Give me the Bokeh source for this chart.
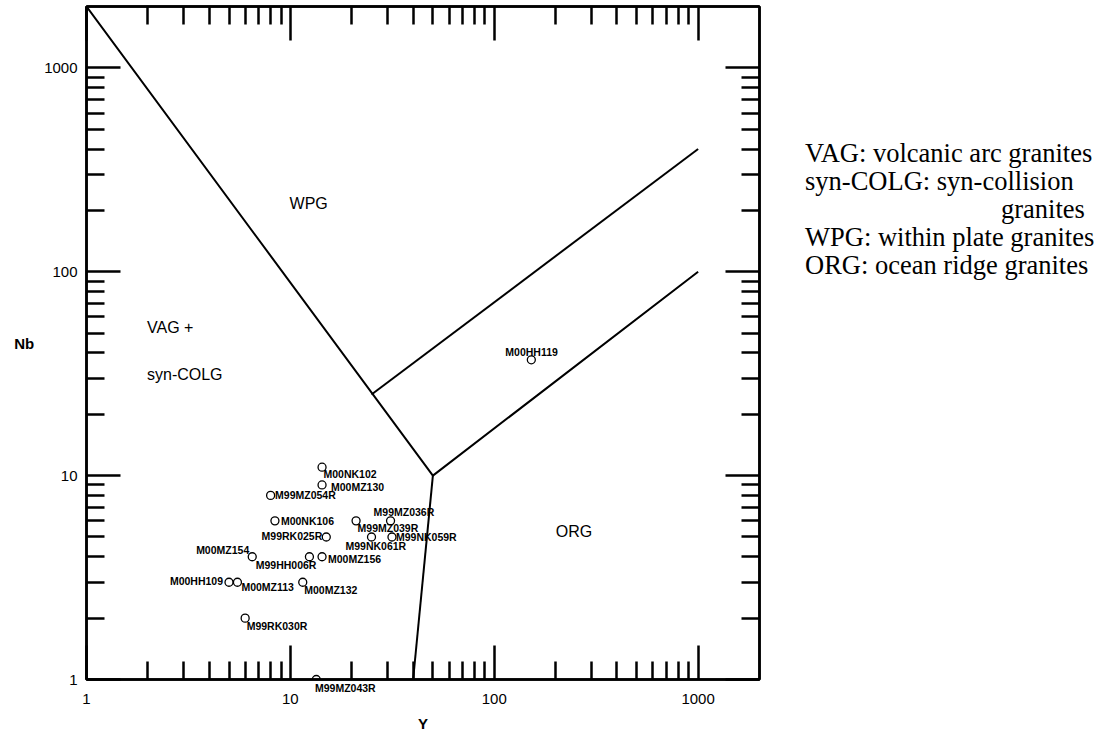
from bokeh.plotting import figure
from bokeh.models import (ColumnDataSource, LogAxis, FixedTicker, BasicTickFormatter,
                          CustomJSTickFormatter, LabelSet, Range1d, Div)
from bokeh.layouts import row
from bokeh.core.properties import value
from bokeh.embed import file_html
from bokeh.resources import INLINE

# ---------------- data ----------------
sample_names = ["M00NK102", "M00MZ130", "M99MZ054R", "M00NK106", "M99RK025R",
                "M00MZ154", "M99HH006R", "M00MZ156", "M00HH109", "M00MZ113",
                "M00MZ132", "M99RK030R", "M99MZ043R", "M99MZ039R", "M99MZ036R",
                "M99NK061R", "M99NK059R", "M00HH119"]
y_ppm = [14.3, 14.3, 8.0, 8.4, 15.0, 6.5, 12.4, 14.3, 5.0, 5.5,
         11.5, 6.0, 13.4, 21.0, 31.0, 25.0, 31.5, 152.0]
nb_ppm = [11.0, 9.0, 8.0, 6.0, 5.0, 4.0, 4.0, 4.0, 3.0, 3.0,
          3.0, 2.0, 1.0, 6.0, 6.0, 5.0, 5.0, 37.0]

# label placement (screen px, dy positive = downwards); the label of the
# sample sitting on the bottom axis is drawn outside the frame (see below)
label_dx = [1.5, 9, 4.5, 6, -4, -3, 7, 6, -6, 4, 1.5, 1.5, 1, 1.5, -17, -26, 4, -26]
label_dy = [6.5, 2, 0, 0, -0.5, -6.5, 8.5, 2.7, -1.4, 5, 7.7, 7.4, 8.4, 7.3, -9.3, 8.7, 0, -7.7]
label_align = ["left", "left", "left", "left", "right", "right", "right", "left", "right",
               "left", "left", "left", "left", "left", "left", "left", "left", "left"]

# discrimination boundaries (Y, Nb)
bnd1_y = [1, 50, 1000]
bnd1_nb = [2000, 10, 100]
bnd2_y = [50, 40]
bnd2_nb = [10, 1]
bnd3_y = [25, 1000]
bnd3_nb = [25, 400]

region_names = ["WPG", "VAG +", "syn-COLG", "ORG"]
region_y = [12.3, 1.98, 1.98, 246.0]
region_nb = [217.0, 53.0, 31.5, 5.34]
region_align = ["center", "left", "left", "center"]

major_ticks = [1, 10, 100, 1000]
minor_ticks = [2, 3, 4, 5, 6, 7, 8, 9, 20, 30, 40, 50, 60, 70, 80, 90,
               200, 300, 400, 500, 600, 700, 800, 900]
tick_labels = ["1", "10", "100", "1000"]

legend_lines = ["VAG: volcanic arc granites", "syn-COLG: syn-collision", "granites",
                "WPG: within plate granites", "ORG: ocean ridge granites"]
legend_indent = [0, 0, 196, 0, 0]

x_min, x_max = 1, 2000
y_min, y_max = 1, 2000

# ---------------- figure ----------------
p = figure(x_axis_type="log", y_axis_type="log",
           x_range=Range1d(x_min, x_max), y_range=Range1d(y_min, y_max),
           frame_width=673, frame_height=673,
           min_border_left=86, min_border_right=20, min_border_top=6, min_border_bottom=0,
           output_backend="svg", toolbar_location=None,
           background_fill_color="white", border_fill_color="white")
p.grid.visible = False
p.outline_line_color = "black"
p.outline_line_width = 2.5

overrides = {t: s for t, s in zip(major_ticks, tick_labels)}


def style_axis(ax, show_labels):
    ax.ticker = FixedTicker(ticks=major_ticks, minor_ticks=minor_ticks)
    ax.major_tick_in = 34
    ax.major_tick_out = 0
    ax.minor_tick_in = 18
    ax.minor_tick_out = 0
    ax.axis_line_width = 2.5
    ax.axis_line_color = "black"
    ax.major_tick_line_width = 2.5
    ax.minor_tick_line_width = 2.5
    ax.major_tick_line_color = "black"
    ax.minor_tick_line_color = "black"
    if show_labels:
        ax.formatter = BasicTickFormatter()
        ax.major_label_overrides = overrides
        ax.major_label_text_font = "Liberation Sans"
        ax.major_label_text_font_size = "15px"
        ax.major_label_text_color = "black"
    else:
        ax.formatter = CustomJSTickFormatter(code="return ''")
        ax.major_label_standoff = 0
        ax.major_label_text_font_size = "0px"


xax = p.xaxis[0]
yax = p.yaxis[0]
style_axis(xax, True)
style_axis(yax, True)
xax.major_label_standoff = 14
yax.major_label_standoff = 9
for ax, title, standoff in [(xax, "Y", 8), (yax, "Nb", 7)]:
    ax.axis_label = title
    ax.axis_label_standoff = standoff
    ax.axis_label_text_font = "Liberation Sans"
    ax.axis_label_text_font_size = "15px"
    ax.axis_label_text_font_style = "bold"
    ax.axis_label_text_color = "black"
if "axis_label_orientation" in yax.properties():
    yax.axis_label_orientation = "horizontal"

top_axis = LogAxis()
style_axis(top_axis, False)
p.add_layout(top_axis, "above")
right_axis = LogAxis()
style_axis(right_axis, False)
p.add_layout(right_axis, "right")

# boundaries
for bx, by in [(bnd1_y, bnd1_nb), (bnd2_y, bnd2_nb), (bnd3_y, bnd3_nb)]:
    p.line(bx, by, line_color="black", line_width=2)

# region names
p.text(x=region_y, y=region_nb, text=region_names, text_align=region_align,
       text_baseline="middle", text_font=value("Liberation Sans"),
       text_font_size="16px", text_color="black")

# samples
src = ColumnDataSource(dict(y=y_ppm, nb=nb_ppm, name=sample_names,
                            dx=label_dx, dy=[-d for d in label_dy], align=label_align))
p.scatter("y", "nb", source=src, marker="circle", size=8, fill_color=None,
          line_color="black", line_width=1.3)
inside = [i for i, v in enumerate(nb_ppm) if v > y_min]
outside = [i for i, v in enumerate(nb_ppm) if v <= y_min]
src_in = ColumnDataSource({k: [src.data[k][i] for i in inside] for k in src.data})
p.add_layout(LabelSet(x="y", y="nb", text="name", source=src_in, x_offset="dx", y_offset="dy",
                      text_align="align", text_baseline="middle",
                      text_font=value("Liberation Sans"), text_font_size="10.5px",
                      text_font_style="bold", text_color="black"))

# labels of samples lying on the frame edge (frame clips annotations) -> positioned divs
edge_divs = []
for i in outside:
    edge_divs.append(Div(text=sample_names[i], width=90, height=14,
                         styles={"position": "absolute", "left": "310px", "top": "677px",
                                 "font-family": "Liberation Sans", "font-size": "10.5px",
                                 "font-weight": "bold", "line-height": "13px",
                                 "color": "black", "white-space": "nowrap"}))

# key on the right
key_html = "".join(
    '<div style="padding-left:%dpx">%s</div>' % (ind, txt)
    for txt, ind in zip(legend_lines, legend_indent))
key = Div(text=key_html, width=320, height=400,
          styles={"padding-top": "134px", "padding-left": "21px",
                  "font-family": "Liberation Serif", "font-size": "26.5px",
                  "line-height": "28px", "color": "black", "white-space": "nowrap"})

layout = row(p, key, *edge_divs)
open("out.html", "w").write(file_html(layout, INLINE))
